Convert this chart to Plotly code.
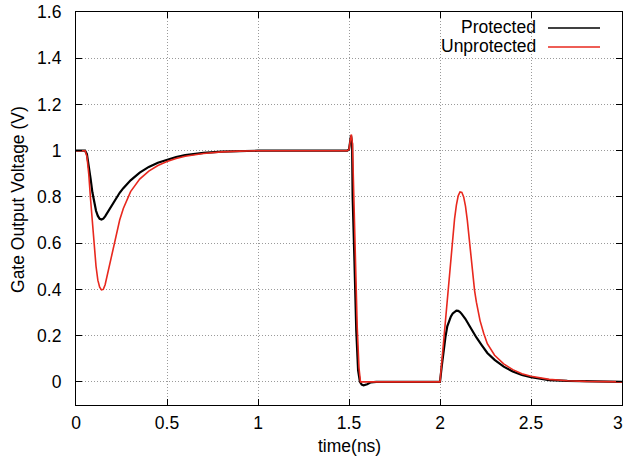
import plotly.graph_objects as go

# Gate output voltage transient, time in ns
t_prot = [0.00, 0.05, 0.06, 0.07, 0.08, 0.09, 0.10, 0.11, 0.12, 0.13, 0.14, 0.15, 0.16,
          0.18, 0.20, 0.22, 0.24, 0.26, 0.28, 0.30, 0.35, 0.40, 0.45, 0.50, 0.55, 0.60,
          0.70, 0.80, 0.90, 1.00, 1.20, 1.49, 1.50, 1.505, 1.511, 1.517, 1.52, 1.53,
          1.54, 1.55, 1.56, 1.57, 1.58, 1.60, 1.62, 1.65, 2.00, 2.01, 2.02, 2.03, 2.04,
          2.05, 2.06, 2.07, 2.08, 2.09, 2.10, 2.11, 2.12, 2.14, 2.16, 2.18, 2.20, 2.23,
          2.26, 2.30, 2.35, 2.40, 2.45, 2.50, 2.60, 2.70, 2.80, 3.00]
v_prot = [1.0, 1.0, 0.985, 0.94, 0.88, 0.82, 0.775, 0.74, 0.718, 0.705, 0.702, 0.706, 0.716,
          0.742, 0.768, 0.795, 0.818, 0.838, 0.857, 0.872, 0.905, 0.930, 0.948, 0.962, 0.973,
          0.981, 0.991, 0.996, 0.999, 1.0, 1.0, 1.0, 1.005, 1.04, 1.065, 1.03, 0.80, 0.52,
          0.22, 0.05, 0.0, -0.012, -0.015, -0.01, -0.002, 0.0, 0.0, 0.07, 0.14, 0.195, 0.24,
          0.265, 0.283, 0.296, 0.304, 0.308, 0.307, 0.302, 0.293, 0.272, 0.245, 0.218, 0.192,
          0.158, 0.125, 0.095, 0.066, 0.045, 0.030, 0.020, 0.008, 0.004, 0.002, 0.0]

t_unprot = [0.00, 0.05, 0.06, 0.07, 0.08, 0.09, 0.10, 0.11, 0.12, 0.13, 0.14, 0.15, 0.16,
            0.17, 0.18, 0.19, 0.20, 0.22, 0.24, 0.26, 0.28, 0.30, 0.35, 0.40, 0.45, 0.50,
            0.55, 0.60, 0.70, 0.80, 0.90, 1.00, 1.49, 1.50, 1.506, 1.513, 1.519, 1.525,
            1.535, 1.545, 1.555, 1.563, 2.00, 2.01, 2.02, 2.03, 2.04, 2.05, 2.06, 2.07,
            2.08, 2.09, 2.10, 2.11, 2.12, 2.13, 2.14, 2.15, 2.16, 2.17, 2.18, 2.19, 2.20,
            2.22, 2.24, 2.26, 2.30, 2.35, 2.40, 2.45, 2.50, 2.60, 2.70, 2.80, 3.00]
v_unprot = [1.0, 1.0, 0.975, 0.90, 0.79, 0.68, 0.58, 0.50, 0.44, 0.41, 0.398, 0.40, 0.42,
            0.455, 0.49, 0.53, 0.57, 0.64, 0.70, 0.75, 0.79, 0.823, 0.877, 0.912, 0.936, 0.953,
            0.966, 0.976, 0.988, 0.995, 0.998, 1.0, 1.0, 1.005, 1.04, 1.07, 1.03, 0.84,
            0.54, 0.24, 0.06, 0.0, 0.0, 0.09, 0.18, 0.26, 0.35, 0.44, 0.53, 0.625,
            0.705, 0.765, 0.805, 0.822, 0.82, 0.80, 0.76, 0.70, 0.62, 0.535, 0.455, 0.395, 0.345,
            0.265, 0.21, 0.165, 0.115, 0.078, 0.053, 0.035, 0.024, 0.011, 0.005, 0.002, 0.0]

x_ticks = [0, 0.5, 1, 1.5, 2, 2.5, 3]
x_tick_text = ["0", "0.5", "1", "1.5", "2", "2.5", "3"]
y_ticks = [0, 0.2, 0.4, 0.6, 0.8, 1.0, 1.2, 1.4, 1.6]
y_tick_text = ["0", "0.2", "0.4", "0.6", "0.8", "1", "1.2", "1.4", "1.6"]

BLACK = "#000000"
RED = "#e8281e"
FONT = "Liberation Sans, Arial, Helvetica, sans-serif"
TICK_SIZE = 17.5
TITLE_SIZE = 17.5

fig = go.Figure()
fig.add_trace(go.Scatter(x=t_prot, y=v_prot, mode="lines", name="Protected",
                         line=dict(color=BLACK, width=2.2)))
fig.add_trace(go.Scatter(x=t_unprot, y=v_unprot, mode="lines", name="Unprotected",
                         line=dict(color=RED, width=1.6)))

axis_common = dict(
    showline=True, linecolor="black", linewidth=1.2, mirror="allticks",
    ticks="inside", ticklen=6, tickcolor="black", tickwidth=1,
    showgrid=True, gridcolor="#9a9a9a", gridwidth=1, griddash="1px,2px",
    zeroline=False, tickfont=dict(family=FONT, size=TICK_SIZE, color="black"),
)

fig.update_xaxes(range=[0, 3], tickvals=x_ticks, ticktext=x_tick_text,
                 ticklabelstandoff=2, **axis_common)
fig.update_yaxes(range=[-0.1, 1.6], tickvals=y_ticks, ticktext=y_tick_text,
                 ticklabelstandoff=10, **axis_common)

# The last x tick label sits against the right edge of the page
fig.add_annotation(x=1.0055, y=-0.045, xref="paper", yref="paper", text=x_tick_text[-1],
                   showarrow=False, xanchor="right", yanchor="middle",
                   font=dict(family=FONT, size=TICK_SIZE, color="black"))

# Axis titles
fig.add_annotation(x=0.5, y=-0.104, xref="paper", yref="paper", text="time(ns)",
                   showarrow=False, xanchor="center", yanchor="middle",
                   font=dict(family=FONT, size=TITLE_SIZE, color="black"))
fig.add_annotation(x=-0.106, y=0.522, xref="paper", yref="paper",
                   text="Gate Output Voltage (V)", textangle=-90,
                   showarrow=False, xanchor="center", yanchor="middle",
                   font=dict(family=FONT, size=TITLE_SIZE, color="black"))

# Key in the upper right: label then line sample
legend_rows = [("Protected", BLACK, 1.5, 0.962), ("Unprotected", RED, 1.5, 0.914)]
for label, color, w, yp in legend_rows:
    fig.add_annotation(x=0.846, y=yp, xref="paper", yref="paper", text=label,
                       showarrow=False, xanchor="right", yanchor="middle",
                       font=dict(family=FONT, size=TICK_SIZE, color="black"))
    fig.add_shape(type="line", xref="paper", yref="paper", x0=0.8645, x1=0.9597,
                  y0=yp - 0.003, y1=yp - 0.003, line=dict(color=color, width=w))

fig.update_layout(
    width=625, height=461,
    margin=dict(l=76, r=3, t=12, b=56, autoexpand=False),
    paper_bgcolor="white", plot_bgcolor="white",
    showlegend=False,
    font=dict(family=FONT, size=TICK_SIZE, color="black"),
)

fig.write_html("out.html")
